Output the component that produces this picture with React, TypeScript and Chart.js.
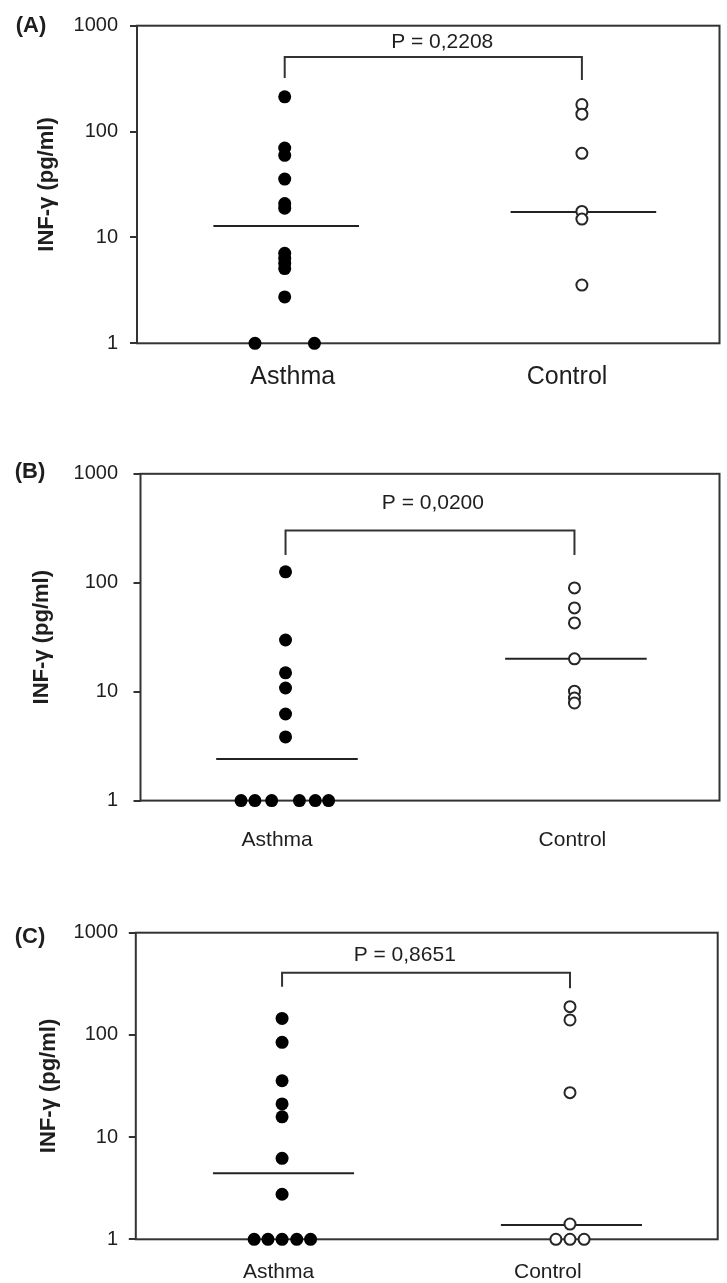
import React, { useEffect, useRef } from "react";
import { Chart, registerables } from "chart.js";

Chart.register(...registerables);

// ---------- data ----------
const categories = ["Asthma", "Control"];
const yTickValues = [1, 10, 100, 1000];
const yTitle = "INF-γ (pg/ml)";
const panelLabels = ["(A)", "(B)", "(C)"];
const pTexts = ["P = 0,2208", "P = 0,0200", "P = 0,8651"];

// Panel A
const asthmaA = [213, 69.9, 59.7, 35.6, 20.9, 18.9, 7.09, 6.35, 5.68, 5.08, 2.74, 1, 1];
const asthmaAJitter = [0, 0, 0, 0, 0, 0, 0, 0, 0, 0, 0, -0.1, 0.1];
const controlA = [180, 146, 62.3, 17.6, 14.9, 3.55];
const controlAJitter = [0, 0, 0, 0, 0, 0];
const mediansA = [12.8, 17.4];
const bracketA = [320, 505, 307]; // left leg end, top, right leg end
const pLabelA = [1.53, 700];

// Panel B
const asthmaB = [126, 29.8, 14.9, 10.8, 6.24, 3.84, 1, 1, 1, 1, 1, 1];
const asthmaBJitter = [0, 0, 0, 0, 0, 0, -0.154, -0.106, -0.048, 0.048, 0.103, 0.149];
const controlB = [89.6, 58.7, 42.8, 20.0, 10.1, 8.75, 7.87];
const controlBJitter = [0, 0, 0, 0, 0, 0, 0];
const mediansB = [2.41, 20.0];
const bracketB = [180, 301, 180];
const pLabelB = [1.51, 537];

// Panel C
const asthmaC = [145, 84.6, 35.6, 21.1, 15.8, 6.2, 2.76, 1, 1, 1, 1, 1];
const asthmaCJitter = [0, 0, 0, 0, 0, 0, 0, -0.097, -0.049, 0, 0.051, 0.099];
const controlC = [189, 140, 27.2, 1.41, 1, 1, 1];
const controlCJitter = [0, 0, 0, 0, -0.049, 0, 0.049];
const mediansC = [4.42, 1.38];
const bracketC = [296, 406, 286];
const pLabelC = [1.426, 605];

// ---------- layout / style ----------
const FONT = "'Liberation Sans', Arial, Helvetica, sans-serif";
const INK = "#1e1e1e";
const LINE = "#333333";

const panels = [
  {
    label: panelLabels[0], p: pTexts[0],
    asthma: asthmaA, asthmaJ: asthmaAJitter, control: controlA, controlJ: controlAJitter,
    medians: mediansA, bracket: bracketA, pLabel: pLabelA,
    top: 0, height: 420,
    area: { left: 137, top: 25.7, right: 725, bottom: 343.3 },
    xMin: 0.503, xMax: 2.463, labelAt: [1.027, 1.95],
    xFont: 25, xPad: 19, yPad: 12, titlePad: 33.3, labelPos: [31, 26],
  },
  {
    label: panelLabels[1], p: pTexts[1],
    asthma: asthmaB, asthmaJ: asthmaBJitter, control: controlB, controlJ: controlBJitter,
    medians: mediansB, bracket: bracketB, pLabel: pLabelB,
    top: 420, height: 440,
    area: { left: 140.5, top: 53.8, right: 725, bottom: 380.6 },
    xMin: 0.498, xMax: 2.502, labelAt: [0.971, 1.993],
    xFont: 21, xPad: 27, yPad: 15.5, titlePad: 28.8, labelPos: [30, 52],
  },
  {
    label: panelLabels[2], p: pTexts[2],
    asthma: asthmaC, asthmaJ: asthmaCJitter, control: controlC, controlJ: controlCJitter,
    medians: mediansC, bracket: bracketC, pLabel: pLabelC,
    top: 860, height: 423,
    area: { left: 135.8, top: 72.7, right: 717.7, bottom: 379.3 },
    xMin: 0.492, xMax: 2.513, labelAt: [0.988, 1.923],
    xFont: 21, xPad: 20, yPad: 10.8, titlePad: 35.5, labelPos: [30, 77],
  },
];

const decorPlugin = {
  id: "decor",
  beforeDatasetsDraw(chart: any) {
    const { ctx, chartArea: a } = chart;
    ctx.save();
    ctx.strokeStyle = LINE;
    ctx.lineWidth = 2;
    ctx.strokeRect(a.left, a.top, a.right - a.left, a.bottom - a.top);
    ctx.restore();
  },
  afterDraw(chart: any, _args: any, opts: any) {
    const { ctx, scales } = chart;
    ctx.save();
    ctx.fillStyle = INK;
    ctx.textBaseline = "middle";
    ctx.textAlign = "center";
    ctx.font = `bold 22px ${FONT}`;
    ctx.fillText(opts.label, opts.labelPos[0], opts.labelPos[1]);
    ctx.font = `21px ${FONT}`;
    ctx.fillText(
      opts.p,
      scales.x.getPixelForValue(opts.pLabel[0]),
      scales.y.getPixelForValue(opts.pLabel[1])
    );
    ctx.restore();
  },
};

function Panel({ cfg }: { cfg: any }) {
  const ref = useRef<HTMLCanvasElement>(null);
  useEffect(() => {
    const W = 727;
    const H = cfg.height;
    const a = cfg.area;
    const medianSpan = [-0.24, 0.25];
    const chart = new Chart(ref.current as HTMLCanvasElement, {
      type: "scatter",
      data: {
        datasets: [
          {
            data: cfg.asthma.map((v: number, i: number) => ({ x: 1 + cfg.asthmaJ[i], y: v })),
            pointRadius: 6.5,
            pointBackgroundColor: "#000",
            pointBorderWidth: 0,
            showLine: false,
            clip: false,
            order: 0,
          },
          {
            data: cfg.control.map((v: number, i: number) => ({ x: 2 + cfg.controlJ[i], y: v })),
            pointRadius: 5.5,
            pointBackgroundColor: "#ffffff",
            pointBorderColor: "#262626",
            pointBorderWidth: 2,
            showLine: false,
            clip: false,
            order: 0,
          },
          {
            data: [
              { x: 1 + medianSpan[0], y: cfg.medians[0] },
              { x: 1 + medianSpan[1], y: cfg.medians[0] },
            ],
            showLine: true,
            pointRadius: 0,
            borderColor: "#222",
            borderWidth: 2,
            clip: false,
            order: 1,
          },
          {
            data: [
              { x: 2 + medianSpan[0], y: cfg.medians[1] },
              { x: 2 + medianSpan[1], y: cfg.medians[1] },
            ],
            showLine: true,
            pointRadius: 0,
            borderColor: "#222",
            borderWidth: 2,
            clip: false,
            order: 1,
          },
          {
            data: [
              { x: 1, y: cfg.bracket[0] },
              { x: 1, y: cfg.bracket[1] },
              { x: 2, y: cfg.bracket[1] },
              { x: 2, y: cfg.bracket[2] },
            ],
            showLine: true,
            pointRadius: 0,
            borderColor: LINE,
            borderWidth: 2,
            clip: false,
            order: 1,
          },
        ],
      },
      options: {
        animation: false,
        responsive: false,
        events: [],
        layout: { padding: { top: a.top, right: W - a.right, bottom: 0, left: 0 } },
        plugins: {
          legend: { display: false },
          tooltip: { enabled: false },
          decor: { label: cfg.label, labelPos: cfg.labelPos, p: cfg.p, pLabel: cfg.pLabel },
        } as any,
        scales: {
          x: {
            type: "linear",
            min: cfg.xMin,
            max: cfg.xMax,
            grid: { display: false, drawTicks: false },
            border: { display: false },
            afterFit: (s: any) => { s.height = H - a.bottom; },
            afterBuildTicks: (s: any) => { s.ticks = cfg.labelAt.map((v: number) => ({ value: v })); },
            ticks: {
              padding: cfg.xPad,
              color: INK,
              font: { family: FONT, size: cfg.xFont },
              maxRotation: 0,
              autoSkip: false,
              callback: (_v: any, i: number) => categories[i],
            },
          },
          y: {
            type: "logarithmic",
            min: 1,
            max: 1000,
            grid: { display: true, drawOnChartArea: false, drawTicks: true, tickLength: 7, color: LINE, lineWidth: 2 },
            border: { display: false },
            afterFit: (s: any) => { s.width = a.left; },
            afterBuildTicks: (s: any) => { s.ticks = yTickValues.map((v) => ({ value: v })); },
            ticks: {
              padding: cfg.yPad,
              color: INK,
              font: { family: FONT, size: 20 },
              callback: (v: any) => String(v),
            },
            title: {
              display: true,
              text: yTitle,
              color: INK,
              font: { family: FONT, size: 22, weight: "bold" },
              padding: { top: cfg.titlePad, bottom: 0 },
            },
          },
        },
      } as any,
      plugins: [decorPlugin],
    });
    return () => chart.destroy();
  }, []);
  return (
    <canvas
      ref={ref}
      width={727}
      height={cfg.height}
      style={{ position: "absolute", left: 0, top: cfg.top, width: 727, height: cfg.height, display: "block" }}
    />
  );
}

export default function App() {
  return (
    <div style={{ position: "absolute", left: 0, top: 0, width: 727, height: 1283, background: "#fff", overflow: "hidden" }}>
      {panels.map((cfg, i) => (
        <Panel key={i} cfg={cfg} />
      ))}
    </div>
  );
}
